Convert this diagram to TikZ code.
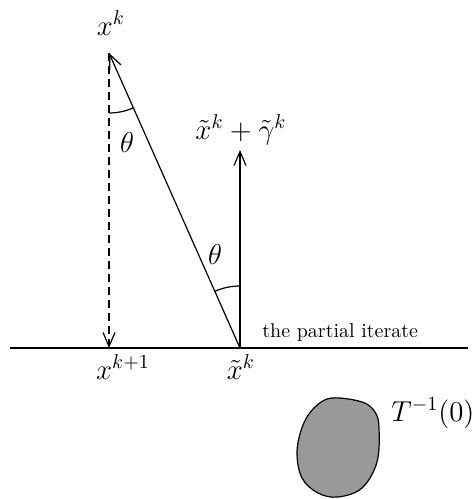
\documentclass[tikz,border=0pt]{standalone}
\usetikzlibrary{arrows.meta}
\begin{document}
\begin{tikzpicture}[x=0.5pt,y=0.5pt,
  ln/.style={line width=0.6pt},
  tip/.style={-{Straight Barb[length=7pt,width=6pt,line width=0.6pt]}},
  lbl/.style={font=\Large, inner sep=0pt},
  small/.style={font=\normalsize, inner sep=0pt}]
\useasboundingbox (0,0) rectangle (472,499);
% points
\coordinate (A) at (109,446);
\coordinate (X1) at (109,151);
\coordinate (Xt) at (240,151);
\coordinate (G) at (240,349);
\coordinate (L) at (10,151);
\coordinate (R) at (468,151);
% baseline
\draw[ln] (L) -- (R);
% arrows
\draw[ln,tip] (Xt) -- (A);
\draw[ln,tip,dash pattern=on 4pt off 2.5pt] (A) -- (X1);
\draw[ln,tip] (Xt) -- (G);
% angle arcs
\draw[ln] ([shift={(-90:60)}]A) arc[start angle=-90,end angle=-66,radius=60];
\draw[ln] ([shift={(90:62)}]Xt) arc[start angle=90,end angle=114,radius=62];
% labels
\node[lbl] (lxk) at (111,476) {$x^k$};
\node[lbl] (th1) at (127,356) {$\theta$};
\node[lbl] (th2) at (215,244) {$\theta$};
\node[lbl] (lxg) at (241,369) {$\tilde{x}^k+\tilde{\gamma}^k$};
\node[small,anchor=west] (lpi) at (262,166) {the partial iterate};
\node[lbl] (lx1) at (123,132) {$x^{k+1}$};
\node[lbl] (lxt) at (241,132) {$\tilde{x}^k$};
% blob
\draw[ln,fill=black!40] plot[smooth cycle,tension=0.6] coordinates
  {(332,101) (362,97) (375,87) (379,71) (377,37) (362,11) (338,2) (318,6) (302,21) (297,47) (303,74) (315,92)};
\node[lbl,anchor=west] (lT) at (391,86) {$T^{-1}(0)$};
\end{tikzpicture}
\end{document}
